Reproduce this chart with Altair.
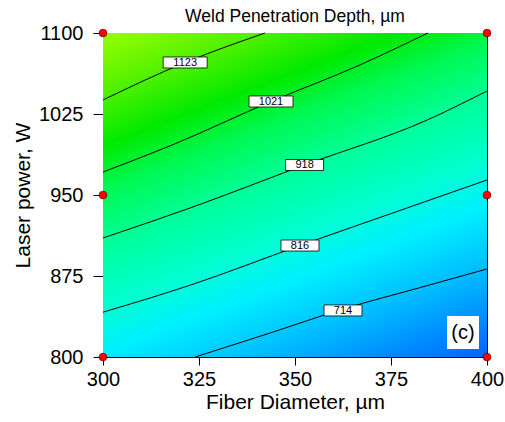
import altair as alt
import pandas as pd

# Axis ticks
x_ticks = [300, 325, 350, 375, 400]
y_ticks = [800, 875, 950, 1025, 1100]

# Contour levels and their polylines
levels = [1123, 1021, 918, 816, 714]
c1123_x = [300.0, 321.4, 342.2]
c1123_y = [1038.0, 1072.7, 1100.0]
c1021_x = [300.0, 317.4, 343.75, 366.9, 384.6]
c1021_y = [971.3, 995.4, 1036.6, 1070.4, 1100.0]
c918_x = [300.0, 322.7, 352.5, 384.4, 400.0]
c918_y = [910.2, 938.0, 977.8, 1019.4, 1046.3]
c816_x = [300.0, 322.7, 351.3, 379.2, 400.0]
c816_y = [841.5, 866.5, 903.2, 938.0, 963.9]
c714_x = [324.0, 343.5, 362.5, 382.6, 400.0]
c714_y = [800.0, 822.2, 844.4, 864.3, 881.5]

# Contour label positions
label_x = [321.4, 343.75, 352.5, 351.3, 362.5]
label_y = [1072.7, 1036.6, 977.8, 903.2, 843.1]

# Design points (red dots)
dots_x = [300, 300, 300, 400, 400, 400]
dots_y = [800, 950, 1100, 800, 950, 1100]

FONT = "Liberation Sans"

rows = []
for lev, xs, ys in [(1123, c1123_x, c1123_y), (1021, c1021_x, c1021_y),
                    (918, c918_x, c918_y), (816, c816_x, c816_y),
                    (714, c714_x, c714_y)]:
    for i, (a, b) in enumerate(zip(xs, ys)):
        rows.append({"level": lev, "i": i, "x": a, "y": b})
contours = pd.DataFrame(rows)

labels = pd.DataFrame({"level": levels, "x": label_x, "y": label_y,
                       "txt": [str(v) for v in levels]})
dots = pd.DataFrame({"x": dots_x, "y": dots_y})
bg = pd.DataFrame({"x": [x_ticks[0]], "x2": [x_ticks[-1]],
                   "y": [y_ticks[0]], "y2": [y_ticks[-1]]})

xscale = alt.Scale(domain=[x_ticks[0], x_ticks[-1]], nice=False, zero=False)
yscale = alt.Scale(domain=[y_ticks[0], y_ticks[-1]], nice=False, zero=False)

xaxis = alt.Axis(values=x_ticks, title="Fiber Diameter, µm", tickSize=8,
                 labelPadding=4, titlePadding=2, labelFlush=False, format="d")
yaxis = alt.Axis(values=y_ticks, title="Laser power, W", tickSize=10,
                 labelPadding=10, titlePadding=5, labelFlush=False, format="d")

grad = alt.Gradient(
    gradient="linear",
    stops=[
        alt.GradientStop(color="#99ff00", offset=0.0),
        alt.GradientStop(color="#55f200", offset=0.12),
        alt.GradientStop(color="#00ea00", offset=0.24),
        alt.GradientStop(color="#00f850", offset=0.33),
        alt.GradientStop(color="#00ff99", offset=0.45),
        alt.GradientStop(color="#00ffd0", offset=0.58),
        alt.GradientStop(color="#00f0ff", offset=0.68),
        alt.GradientStop(color="#00b8ff", offset=0.82),
        alt.GradientStop(color="#0064ff", offset=1.0),
    ],
    x1=0, y1=0, x2=0.548, y2=1.205,
)

background = alt.Chart(bg).mark_rect(fill=grad).encode(
    x=alt.X("x:Q", scale=xscale, axis=xaxis),
    x2="x2:Q",
    y=alt.Y("y:Q", scale=yscale, axis=yaxis),
    y2="y2:Q",
)

lines = alt.Chart(contours).mark_line(color="black", strokeWidth=1,
                                      interpolate="monotone").encode(
    x=alt.X("x:Q", scale=xscale),
    y=alt.Y("y:Q", scale=yscale),
    detail="level:N",
    order="i:Q",
)

box4 = alt.Chart(labels).transform_filter("datum.level >= 1000").mark_rect(
    fill="white", stroke="black", strokeWidth=0.8, width=44, height=11
).encode(x=alt.X("x:Q", scale=xscale), y=alt.Y("y:Q", scale=yscale))

box3 = alt.Chart(labels).transform_filter("datum.level < 1000").mark_rect(
    fill="white", stroke="black", strokeWidth=0.8, width=38, height=11
).encode(x=alt.X("x:Q", scale=xscale), y=alt.Y("y:Q", scale=yscale))

texts = alt.Chart(labels).mark_text(font=FONT, fontSize=11, color="black",
                                    baseline="middle", dy=0.5).encode(
    x=alt.X("x:Q", scale=xscale), y=alt.Y("y:Q", scale=yscale), text="txt:N"
)

points = alt.Chart(dots).mark_point(shape="circle", filled=True, fill="#ff0000",
                                    stroke="#660000", strokeWidth=0.7,
                                    size=60, opacity=1).encode(
    x=alt.X("x:Q", scale=xscale), y=alt.Y("y:Q", scale=yscale)
)

tag_box = alt.Chart(bg).mark_rect(fill="white").encode(
    x=alt.value(344), x2=alt.value(376), y=alt.value(283), y2=alt.value(316)
)
tag_text = alt.Chart(bg).mark_text(text="(c)", font=FONT, fontSize=20,
                                   color="black", baseline="middle").encode(
    x=alt.value(360), y=alt.value(300)
)

chart = alt.layer(background, lines, box4, box3, texts, tag_box, tag_text,
                  points).properties(
    width=384, height=324,
    title=alt.TitleParams("Weld Penetration Depth, µm", font=FONT, fontSize=17.5,
                          fontWeight="normal", color="black", offset=4,
                          frame="group", dy=6),
    padding={"left": 103, "top": 33, "right": 18, "bottom": 65},
    autosize="none",
).configure_view(stroke="black", strokeWidth=1).configure_axis(
    grid=False, domainColor="black", tickColor="black", labelColor="black",
    titleColor="black", labelFont=FONT, titleFont=FONT, labelFontSize=20,
    titleFontSize=21, titleFontWeight="normal", domainWidth=1, tickWidth=1,
)

chart.save("out.html", embed_options={"renderer": "svg", "actions": False})
